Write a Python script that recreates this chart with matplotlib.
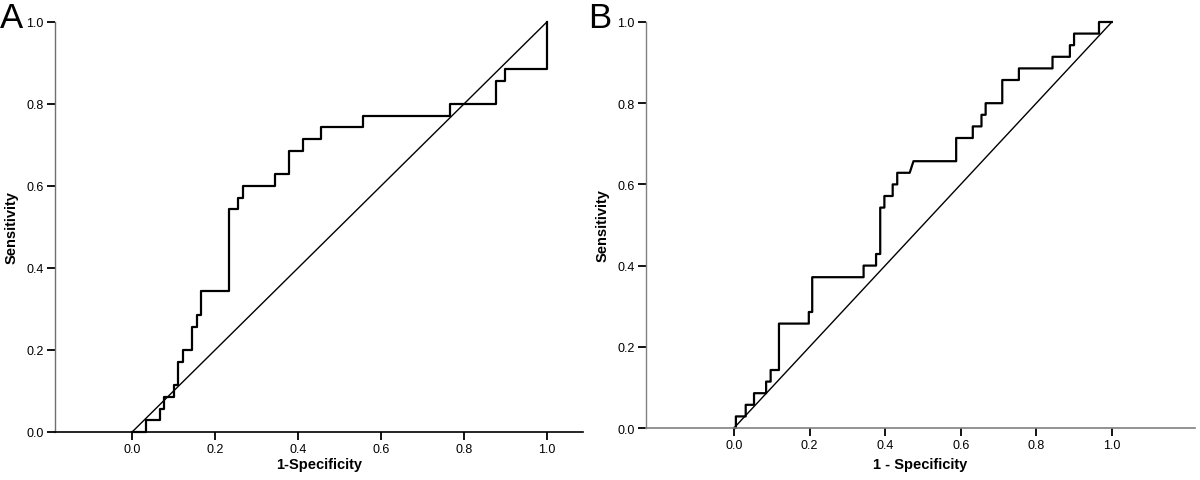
import matplotlib
matplotlib.use("Agg")
import matplotlib.pyplot as plt

plt.rcParams['font.family'] = ['Liberation Sans', 'DejaVu Sans']

N = 35.0
# Panel A ROC curve vertices (1-specificity, sensitivity*35)
fpr_a = [0, 0.033, 0.033, 0.067, 0.067, 0.078, 0.078, 0.100, 0.100, 0.111, 0.111, 0.122, 0.122,
         0.144, 0.144, 0.156, 0.156, 0.167, 0.167, 0.233, 0.233, 0.256, 0.256, 0.267, 0.267,
         0.344, 0.344, 0.378, 0.378, 0.411, 0.411, 0.456, 0.456, 0.556, 0.556, 0.767, 0.767,
         0.878, 0.878, 0.900, 0.900, 1.0, 1.0]
tpr_a = [0, 0, 1, 1, 2, 2, 3, 3, 4, 4, 6, 6, 7,
         7, 9, 9, 10, 10, 12, 12, 19, 19, 20, 20, 21,
         21, 22, 22, 24, 24, 25, 25, 26, 26, 27, 27, 28,
         28, 30, 30, 31, 31, 35]

# Panel B ROC curve vertices
fpr_b = [0, 0.005, 0.005, 0.031, 0.031, 0.053, 0.053, 0.085, 0.085, 0.097, 0.097, 0.119, 0.119,
         0.198, 0.198, 0.207, 0.207, 0.343, 0.343, 0.376, 0.376, 0.387, 0.387, 0.398, 0.398,
         0.420, 0.420, 0.432, 0.432, 0.465, 0.475, 0.588, 0.588, 0.632, 0.632, 0.655, 0.655,
         0.666, 0.666, 0.710, 0.710, 0.754, 0.754, 0.843, 0.843, 0.889, 0.889, 0.900, 0.900,
         0.966, 0.966, 1.0]
tpr_b = [0, 0, 1, 1, 2, 2, 3, 3, 4, 4, 5, 5, 9,
         9, 10, 10, 13, 13, 14, 14, 15, 15, 19, 19, 20,
         20, 21, 21, 22, 22, 23, 23, 25, 25, 26, 26, 27,
         27, 28, 28, 30, 30, 31, 31, 32, 32, 33, 33, 34,
         34, 35, 35]

ticks = [0.0, 0.2, 0.4, 0.6, 0.8, 1.0]
tick_labels = ["0.0", "0.2", "0.4", "0.6", "0.8", "1.0"]

fig = plt.figure(figsize=(12, 4.81), dpi=100)
axA = fig.add_axes([0.0458, 0.0998, 0.4400, 0.8524])
axB = fig.add_axes([0.5383, 0.1081, 0.4575, 0.8441])


def style(ax, xlim, xlabel, left_col, bottom_col, xl_y, yl_x):
    ax.set_xlim(*xlim)
    ax.set_ylim(0, 1.0)
    for s in ['top', 'right']:
        ax.spines[s].set_visible(False)
    ax.spines['left'].set_color(left_col)
    ax.spines['bottom'].set_color(bottom_col)
    ax.spines['left'].set_linewidth(1.0)
    ax.spines['bottom'].set_linewidth(1.2)
    ax.set_xticks(ticks)
    ax.set_xticklabels(tick_labels)
    ax.set_yticks(ticks)
    ax.set_yticklabels(tick_labels)
    ax.tick_params(direction='out', length=6, width=1.3, color='black', labelsize=9, pad=2)
    ax.set_xlabel(xlabel, fontsize=10.5, fontweight='bold')
    ax.set_ylabel("Sensitivity", fontsize=10.5, fontweight='bold')
    ax.xaxis.set_label_coords(0.5, xl_y)
    ax.yaxis.set_label_coords(yl_x, 0.5)
    ax.plot([0, 1], [0, 1], color='black', lw=1.0, clip_on=False)


style(axA, (-0.186, 1.087), "1-Specificity", '#707070', 'black', -0.062, -0.068)
style(axB, (-0.233, 1.22), "1 - Specificity", '#808080', '#808080', -0.072, -0.066)

axA.plot(fpr_a, [t / N for t in tpr_a], color='black', lw=1.6, clip_on=False)
axB.plot(fpr_b, [t / N for t in tpr_b], color='black', lw=1.6, clip_on=False)

fig.text(0.0, 0.995, "A", fontsize=25, va='top', ha='left')
fig.text(0.490, 0.995, "B", fontsize=25, va='top', ha='left')

fig.savefig("out.png", dpi=100)
